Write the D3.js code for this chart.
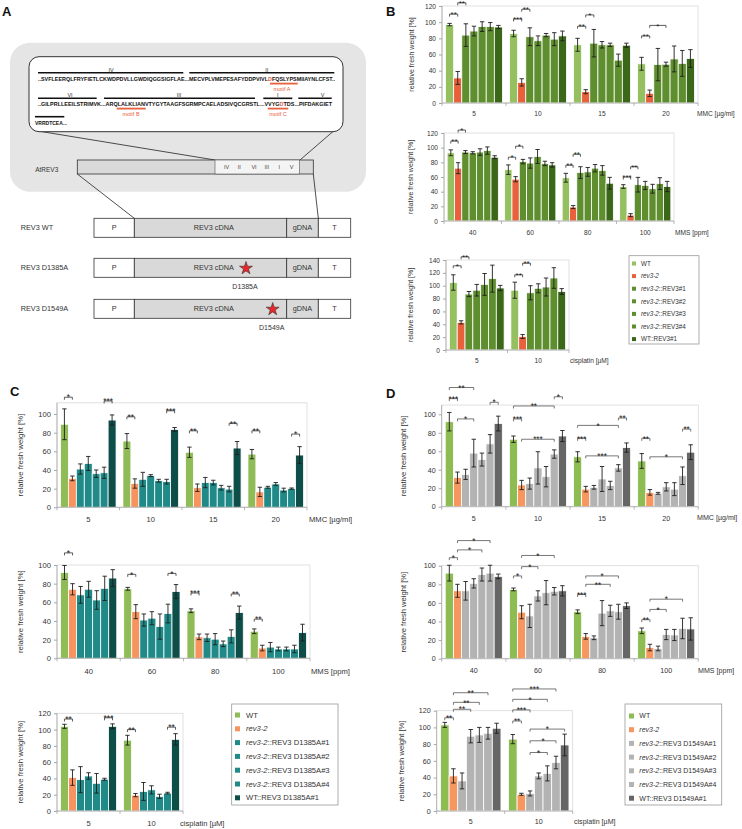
<!DOCTYPE html>
<html><head><meta charset="utf-8">
<script src="https://cdn.jsdelivr.net/npm/d3@7"></script>
<style>body{margin:0;background:#fff} svg{display:block;font-family:"Liberation Sans",Arial,sans-serif}</style>
</head><body><svg id="fig" width="742" height="829"></svg>
<script>
// ---------------- DATA ----------------
const seriesB = ["WT","rev3-2","rev3-2::REV3#1","rev3-2::REV3#2","rev3-2::REV3#3","rev3-2::REV3#4","WT::REV3#1"];
const seriesC = ["WT","rev3-2","rev3-2::REV3 D1385A#1","rev3-2::REV3 D1385A#2","rev3-2::REV3 D1385A#3","rev3-2::REV3 D1385A#4","WT::REV3 D1385A#1"];
const seriesD = ["WT","rev3-2","rev3-2::REV3 D1549A#1","rev3-2::REV3 D1549A#2","rev3-2::REV3 D1549A#3","rev3-2::REV3 D1549A#4","WT::REV3 D1549A#1"];
const mmcDoses = ["5","10","15","20"];
const mmsDoses = ["40","60","80","100"];
const cisDoses = ["5","10"];
const ticks100 = [0,20,40,60,80,100];
const ticks120 = [0,20,40,60,80,100,120];
const ticks140 = [0,20,40,60,80,100,120,140];

// panel B
const bMMC = [[97,31,84,89,94.5,94.5,94],[86,25.5,82,77,84,79,83],[72,14,74,72,72,53,71.5],[48.5,12,47.5,48,54.5,49,55]];
const bMMCErr = [[1.5,8,14,6,6,5,2],[4,4.5,11,6,2,8,6],[8,2.5,17,4,2,7.5,2.5],[8,4,20,2.5,16,16,11]];
const bMMCSig = [[0,0,1,110,"**"],[0,1,2,124,"**"],[1,0,1,104,"***"],[1,1,2,116,"**"],[2,0,1,95,"**"],[2,1,2,109,"*"],[3,0,1,83,"**"],[3,1,3,96,"*"]];
const bMMS = [[93,72,94,93,94,96,87],[70,57,81,79,88,78.5,76.5],[59,19,66,67,72,69,51.5],[47,8,49.5,48.5,44,51,47]];
const bMMSErr = [[4,7.5,2,1.5,4.5,5,2],[6.5,3.5,3,7,9.5,3,3],[6,2,8,6,5,6.5,8],[2.5,2,10,5.5,6,8,7]];
const bMMSSig = [[0,0,1,109,"**"],[0,1,2,124,"*"],[1,0,1,87,"*"],[1,1,2,102,"*"],[2,0,1,76,"**"],[2,1,2,91,"**"],[3,0,1,60,"***"],[3,1,2,74,"**"]];
const bCis = [[105,43,87,93,102,111,96.5],[93,21,89,96,98,112,91]];
const bCisErr = [[12,2.5,4,9,17,21,4],[12.5,3,11,7,14,16,4.5]];
const bCisSig = [[0,0,1,131,"*"],[0,1,2,145,"**"],[1,0,1,117,"**"],[1,1,2,135,"**"]];

// panel C
const cMMC = [[89,31,41,47,36,37,93.5],[71,25.5,30,34,28.5,27.5,83.5],[59,21,26.5,26.5,21,19.5,63.5],[57,16.5,21.5,25,18.5,20,56]];
const cMMCErr = [[16.5,2.5,5.5,7.5,4,6,5.5],[8,5,7.5,1,1.5,2.5,2],[5.5,4,5.5,2.5,2.5,3,7],[5,5,1,1.5,2,0.7,9]];
const cMMCSig = [[0,0,1,118,"*"],[0,5,6,114,"***"],[1,0,1,97,"**"],[1,5,6,103.5,"***"],[2,0,1,82,"**"],[2,5,6,90,"**"],[3,0,1,82,"**"],[3,5,6,78.5,"*"]];
const cMMS = [[92,74,68,74,62.5,75,86],[74.5,50,41,43,34,48,71.5],[51,23,22,20.5,15.5,23.5,49],[29,11,12,10,10,10,27.5]];
const cMMSErr = [[7.5,6,9,8.5,10,13,9],[1.5,7.5,6.5,7,13.5,10,7.5],[2,3,4,6,3,7,7],[2.5,3,5,2,2,4,9]];
const cMMSSig = [[0,0,1,113,"*"],[1,0,1,90,"*"],[1,5,6,91,"*"],[2,0,1,70,"***"],[2,5,6,69,"**"],[3,0,1,42,"**"]];
const cCis = [[104,41,38.5,43,34,39,104],[87,19.5,24,26,18,22,88]];
const cCisErr = [[2.5,9.5,16,4,12,1.2,3],[6,2,11,5,2.6,1,7]];
const cCisSig = [[0,0,1,113,"**"],[0,5,6,114.5,"***"],[1,0,1,100,"**"],[1,5,6,103,"**"]];

// panel D
const dMMC = [[92,31.5,35,58,51,68,90],[73,23.5,25,42,32.5,57,76.5],[54,19,21,30,23,42,64],[49.5,15.5,14.5,21.5,19,33.5,59]];
const dMMCErr = [[10,6,5.5,15,7,10,8],[3.5,5,6,17.5,11,4.5,6],[5.5,3,2,13.5,4.5,3.5,5],[8,3,1,4.5,7,9.5,8]];
const dMMCSig = [[0,0,3,129,"**"],[0,0,1,117,"***"],[0,5,6,113,"*"],[0,1,3,95,"*"],[1,0,5,109,"**"],[1,5,6,119,"*"],[1,0,1,95,"***"],[1,1,5,73,"***"],[2,0,5,88,"*"],[2,5,6,96,"**"],[2,0,1,74,"***"],[2,1,5,55,"***"],[3,0,1,74,"**"],[3,1,5,54,"*"],[3,5,6,84,"**"]];
const dMMS = [[92,73,73,81,90.5,92,88.5],[74.5,50,46,67.5,71,72.5,73],[50.5,24,22.5,49,51.5,50.5,57],[30,12,11,26,25.5,32.5,32]];
const dMMSErr = [[8.5,7,10,5,7,8.5,2.5],[1.5,7,12.5,5.5,13,4,5.5],[2,3,2,13.5,6,8,3],[3,3.5,2.5,5.5,6,11,12]];
const dMMSSig = [[0,0,1,108.6,"*"],[0,1,4,117,"*"],[0,1,5,127,"*"],[1,0,1,89,"*"],[1,1,3,99,"*"],[1,1,5,111,"*"],[2,0,1,69,"***"],[2,1,4,80,"**"],[2,1,5,89,"*"],[3,0,1,42,"**"],[3,1,3,53,"*"],[3,1,5,64,"*"]];
const dCis = [[103,42,36,89.5,91,93,99],[86,20,21,42,45,58,79]];
const dCisErr = [[3,8.5,9.5,8,9,7,6],[5.5,1.2,3,3.5,9,7.5,13]];
const dCisSig = [[0,0,1,111.6,"**"],[0,1,3,121.7,"**"],[0,1,4,130,"**"],[0,1,5,141.5,"**"],[1,0,1,107.7,"**"],[1,0,2,121,"***"],[1,0,4,133.6,"*"],[1,0,5,146,"***"],[1,2,4,70,"*"],[1,2,5,84,"*"],[1,2,6,98,"*"]];

// ---------------- STYLE ----------------
const colB = ["#94C05F","#E8603C","#5F8E2F","#5F8E2F","#5F8E2F","#5F8E2F","#3B6718"];
const colC = ["#8FBC57","#F7935F","#1F8A87","#1F8A87","#1F8A87","#1F8A87","#0D4E49"];
const colD = ["#8DBC52","#F7965F","#B3B3B3","#B3B3B3","#B3B3B3","#B3B3B3","#666666"];

const svg = d3.select("#fig");

function drawChart(c) {
  const g = svg.append("g");
  const y = d3.scaleLinear().domain([0, c.tickMax]).range([c.y0, c.yTickMaxPx]);
  const x0 = d3.scaleBand().domain(c.groups).range([c.left, c.right]);
  const bw = x0.bandwidth();
  const x1 = d3.scaleBand().domain(d3.range(c.colors.length)).range([bw*0.055, bw*0.945]);
  const b1 = x1.bandwidth();
  // frame
  g.append("rect").attr("x", c.left).attr("y", y(c.frameTop))
    .attr("width", c.right - c.left).attr("height", y(0) - y(c.frameTop))
    .attr("fill", "none").attr("stroke", "#D9D9D9").attr("stroke-width", 0.8);
  const flat = [];
  c.means.forEach((row, gi) => row.forEach((v, si) => flat.push({g: c.groups[gi], s: si, v, e: c.errs[gi][si]})));
  g.selectAll("rect.bar").data(flat).join("rect").attr("class","bar")
    .attr("x", d => x0(d.g) + x1(d.s)).attr("width", b1)
    .attr("y", d => y(d.v)).attr("height", d => y(0) - y(d.v))
    .attr("fill", d => c.colors[d.s]).attr("stroke", "#fff").attr("stroke-width", 0.8);
  // error bars
  const eg = g.append("g").attr("stroke", "#1e1e1e").attr("stroke-width", 0.9).attr("fill","none");
  const cap = Math.min(2.2, b1*0.3);
  eg.selectAll("path").data(flat).join("path").attr("d", d => {
    const cx = x0(d.g) + x1(d.s) + b1/2, yt = y(d.v + d.e), yb = y(Math.max(0, d.v - d.e));
    return `M${cx-cap},${yt}H${cx+cap}M${cx},${yt}V${yb}M${cx-cap},${yb}H${cx+cap}`;
  });
  // y axis
  const ya = g.append("g").attr("transform", `translate(${c.left},0)`)
    .call(d3.axisLeft(y).tickValues(c.ticks).tickSize(3).tickPadding(3));
  ya.select(".domain").remove();
  ya.selectAll("line").attr("stroke", "#A6A6A6");
  ya.selectAll("text").attr("font-size", c.fs).attr("fill", "#333").attr("font-family", null);
  g.append("line").attr("x1", c.left).attr("x2", c.left).attr("y1", y(c.frameTop)).attr("y2", y(0)).attr("stroke", "#A6A6A6").attr("stroke-width", 0.8);
  // x axis
  g.append("line").attr("x1", c.left).attr("x2", c.right).attr("y1", y(0)).attr("y2", y(0)).attr("stroke", "#A6A6A6").attr("stroke-width", 0.8);
  const bounds = c.groups.map(k => x0(k)).concat([c.right]);
  g.selectAll("line.bt").data(bounds).join("line").attr("class","bt")
    .attr("x1", d => d).attr("x2", d => d).attr("y1", y(0)).attr("y2", y(0) + 3)
    .attr("stroke", "#A6A6A6").attr("stroke-width", 0.8);
  const xa = g.append("g").attr("transform", `translate(0,${c.xlabY})`)
    .call(d3.axisBottom(x0).tickSize(0).tickPadding(0));
  xa.select(".domain").remove();
  xa.selectAll("text").attr("y", 0).attr("dy", "0.35em").attr("font-size", c.fs).attr("fill", "#333").attr("font-family", null);
  g.append("text").attr("x", c.xTitleX).attr("y", c.xlabY).attr("dy", "0.35em")
    .attr("font-size", c.fs).attr("fill", "#333").text(c.xTitle);
  // y label
  g.append("text").attr("transform", `translate(${c.ylabX},${(y(c.frameTop) + y(0))/2}) rotate(-90)`)
    .attr("text-anchor", "middle").attr("dy", "0.35em").attr("font-size", c.yfs).attr("fill", "#333")
    .text("relative fresh weight [%]");
  // significance brackets
  const sg = g.append("g");
  c.sigs.forEach(([gi, a, b, v, lab]) => {
    const xa_ = x0(c.groups[gi]) + x1(a) + b1/2, xb_ = x0(c.groups[gi]) + x1(b) + b1/2, yy = y(v);
    sg.append("path").attr("d", `M${xa_},${yy+2.5}V${yy}H${xb_}V${yy+2.5}`)
      .attr("fill", "none").attr("stroke", c.sigStroke).attr("stroke-width", 0.8);
    sg.append("text").attr("x", (xa_ + xb_)/2).attr("y", yy + 3.2).attr("text-anchor", "middle")
      .attr("font-size", c.sfs).attr("fill", "#222").text(lab);
  });
}

function drawLegend(L) {
  const g = svg.append("g");
  g.append("rect").attr("x", L.x).attr("y", L.y).attr("width", L.w).attr("height", L.h)
    .attr("fill", "#fff").attr("stroke", "#999").attr("stroke-width", 0.8);
  L.items.forEach((name, i) => {
    const cy = L.y0 + i * L.step;
    g.append("rect").attr("x", L.mx).attr("y", cy - L.ms/2).attr("width", L.ms).attr("height", L.ms).attr("fill", L.colors[i]);
    const t = g.append("text").attr("x", L.tx).attr("y", cy).attr("dy", "0.35em").attr("font-size", L.fs).attr("fill", "#333");
    if (name.startsWith("rev3-2")) {
      t.append("tspan").attr("font-style", "italic").text("rev3-2");
      if (name.length > 6) t.append("tspan").text(name.slice(6));
    } else t.text(name);
  });
}

// ---------------- PANEL B ----------------
drawChart({groups: mmcDoses, means: bMMC, errs: bMMCErr, sigs: bMMCSig, colors: colB, left: 442, right: 698,
  y0: 103, tickMax: 120, yTickMaxPx: 6, frameTop: 120, ticks: ticks120, xlabY: 114, xTitle: "MMC [µg/ml]", xTitleX: 697,
  ylabX: 412, fs: 6.6, yfs: 7, sfs: 8, sigStroke: "#333"});
drawChart({groups: mmsDoses, means: bMMS, errs: bMMSErr, sigs: bMMSSig, colors: colB, left: 444, right: 674,
  y0: 221, tickMax: 120, yTickMaxPx: 133, frameTop: 120, ticks: ticks120, xlabY: 233, xTitle: "MMS [ppm]", xTitleX: 675,
  ylabX: 411, fs: 6.6, yfs: 7, sfs: 8, sigStroke: "#333"});
drawChart({groups: cisDoses, means: bCis, errs: bCisErr, sigs: bCisSig, colors: colB, left: 446, right: 569,
  y0: 350, tickMax: 140, yTickMaxPx: 260, frameTop: 140, ticks: ticks140, xlabY: 361, xTitle: "cisplatin [µM]", xTitleX: 570,
  ylabX: 411, fs: 6.6, yfs: 7, sfs: 8, sigStroke: "#333"});
drawLegend({x: 629, y: 255.7, w: 70, h: 88.3, y0: 263.5, step: 12.6, mx: 632, ms: 4, tx: 641, fs: 6.3, items: seriesB, colors: colB});

// ---------------- PANEL C ----------------
drawChart({groups: mmcDoses, means: cMMC, errs: cMMCErr, sigs: cMMCSig, colors: colC, left: 57, right: 307,
  y0: 507.3, tickMax: 100, yTickMaxPx: 414, frameTop: 112, ticks: ticks100, xlabY: 519, xTitle: "MMC [µg/ml]", xTitleX: 309,
  ylabX: 20, fs: 7.6, yfs: 7.8, sfs: 8.5, sigStroke: "#333"});
drawChart({groups: mmsDoses, means: cMMS, errs: cMMSErr, sigs: cMMSSig, colors: colC, left: 57, right: 310,
  y0: 658.3, tickMax: 100, yTickMaxPx: 565, frameTop: 100, ticks: ticks100, xlabY: 671, xTitle: "MMS [ppm]", xTitleX: 311,
  ylabX: 20, fs: 7.6, yfs: 7.8, sfs: 8.5, sigStroke: "#333"});
drawChart({groups: cisDoses, means: cCis, errs: cCisErr, sigs: cCisSig, colors: colC, left: 57, right: 183,
  y0: 811, tickMax: 120, yTickMaxPx: 713.3, frameTop: 120, ticks: ticks120, xlabY: 823, xTitle: "cisplatin [µM]", xTitleX: 180,
  ylabX: 20, fs: 7.6, yfs: 7.8, sfs: 8.5, sigStroke: "#333"});
drawLegend({x: 231.7, y: 704, w: 106.3, h: 101, y0: 715, step: 13.8, mx: 235, ms: 5, tx: 246, fs: 7.6, items: seriesC, colors: colC});

// ---------------- PANEL D ----------------
drawChart({groups: mmcDoses, means: dMMC, errs: dMMCErr, sigs: dMMCSig, colors: colD, left: 441.7, right: 698.3,
  y0: 506.7, tickMax: 100, yTickMaxPx: 414.3, frameTop: 110, ticks: ticks100, xlabY: 518, xTitle: "MMC [µg/ml]", xTitleX: 697,
  ylabX: 403, fs: 7.1, yfs: 7.6, sfs: 8.2, sigStroke: "#555"});
drawChart({groups: mmsDoses, means: dMMS, errs: dMMSErr, sigs: dMMSSig, colors: colD, left: 441.7, right: 698.3,
  y0: 658.7, tickMax: 100, yTickMaxPx: 565.7, frameTop: 100, ticks: ticks100, xlabY: 670.7, xTitle: "MMS [ppm]", xTitleX: 698,
  ylabX: 403, fs: 7.1, yfs: 7.6, sfs: 8.2, sigStroke: "#555"});
drawChart({groups: cisDoses, means: dCis, errs: dCisErr, sigs: dCisSig, colors: colD, left: 436.7, right: 572.7,
  y0: 811, tickMax: 120, yTickMaxPx: 710.7, frameTop: 120, ticks: ticks120, xlabY: 821.7, xTitle: "cisplatin [µM]", xTitleX: 574,
  ylabX: 401.7, fs: 7.1, yfs: 7.6, sfs: 8.2, sigStroke: "#555"});
drawLegend({x: 625, y: 704, w: 96.7, h: 101, y0: 716, step: 13.7, mx: 629, ms: 5, tx: 639.3, fs: 7, items: seriesD, colors: colD});

// ---------------- PANEL LABELS ----------------
[["A",2,16],["B",386,16],["C",10,396],["D",386,398]].forEach(([t,x,yy]) =>
  svg.append("text").attr("x",x).attr("y",yy).attr("font-size",13).attr("font-weight","bold").attr("fill","#111").text(t));

// ---------------- PANEL A (schematic) ----------------
const A = svg.append("g");
A.append("rect").attr("x",10).attr("y",42.7).attr("width",356).attr("height",149).attr("rx",20).attr("fill","#E5E5E5");
A.append("line").attr("x1",38).attr("y1",131).attr("x2",215).attr("y2",160).attr("stroke","#222").attr("stroke-width",0.8);
A.append("line").attr("x1",333).attr("y1",131.5).attr("x2",300).attr("y2",160).attr("stroke","#222").attr("stroke-width",0.8);
A.append("rect").attr("x",29).attr("y",56.7).attr("width",314).attr("height",75).attr("rx",10).attr("fill","#fff").attr("stroke","#333").attr("stroke-width",1);
const seqBar = (x1,x2,yy) => A.append("line").attr("x1",x1).attr("x2",x2).attr("y1",yy).attr("y2",yy).attr("stroke","#111").attr("stroke-width",1.6);
const smallTxt = (t,x,yy,fs,col,anchor) => A.append("text").attr("x",x).attr("y",yy).attr("font-size",fs).attr("fill",col||"#333").attr("text-anchor",anchor||"middle").text(t);
seqBar(38,183.3,72.7); seqBar(189.3,334.3,72.7);
smallTxt("IV",111,71.5,5.5); smallTxt("II",266.7,71.5,5.5);
const seq = (parts, x, yy, len) => {
  const t = A.append("text").attr("x",x).attr("y",yy).attr("font-size",5).attr("font-weight","bold").attr("fill","#111")
    .attr("textLength",len).attr("lengthAdjust","spacingAndGlyphs");
  parts.forEach(([s,red]) => t.append("tspan").attr("fill", red ? "#E8603C" : "#111").text(s));
};
seq([["..SVFLEERQLFRYFIETLCKWDPDVLLGWDIQGGSIGFLAE...MECVPLVMEPESAFYDDPVIVL",0],["D",1],["FQSLYPSMIIAYNLCFST..",0]],38,81,297);
A.append("line").attr("x1",270).attr("x2",297.7).attr("y1",83.6).attr("y2",83.6).attr("stroke","#E8603C").attr("stroke-width",1.8);
smallTxt("motif A",282,91,5.5,"#E8603C");
seqBar(38,96.7,98.3); seqBar(104,255,98.3); seqBar(263.3,292.3,98.3); seqBar(298.3,331.7,98.3);
smallTxt("VI",70,97,5.5); smallTxt("III",179,97,5.5); smallTxt("I",277.7,97,5.5); smallTxt("V",322.7,97,5.5);
seq([["..GILPRLLEEILSTRIMVK...ARQLALKLIANVTYGYTAAGFSGRMPCAELADSIVQCGRSTL...VVYG",0],["D",1],["TDS...PIFDAKGIET",0]],38,106,294);
A.append("line").attr("x1",116.7).attr("x2",145.7).attr("y1",108.6).attr("y2",108.6).attr("stroke","#E8603C").attr("stroke-width",1.8);
A.append("line").attr("x1",267.7).attr("x2",288.3).attr("y1",108.6).attr("y2",108.6).attr("stroke","#E8603C").attr("stroke-width",1.8);
smallTxt("motif B",131,115.5,5.5,"#E8603C"); smallTxt("motif C",278,115.5,5.5,"#E8603C");
seqBar(35,64.3,116.7);
seq([["VRRDTCEA...",0]],35,124.5,32);
// AtREV3 bar
A.append("rect").attr("x",77.3).attr("y",160).attr("width",236).attr("height",14).attr("fill","#D9D9D9").attr("stroke","#333").attr("stroke-width",0.8);
A.append("rect").attr("x",215).attr("y",160).attr("width",84.3).attr("height",14).attr("fill","#F4F4F4").attr("stroke","#555").attr("stroke-width",0.6);
[["IV",226.7],["II",239.3],["VI",254],["III",266.7],["I",279.3],["V",291.7]].forEach(([t,x]) => smallTxt(t,x,169.3,5.5,"#444"));
smallTxt("AtREV3",46.7,172.3,6.5,"#333");
A.append("line").attr("x1",77.3).attr("y1",174).attr("x2",134.3).attr("y2",218.3).attr("stroke","#222").attr("stroke-width",0.8);
A.append("line").attr("x1",313.3).attr("y1",174).attr("x2",318.3).attr("y2",218.3).attr("stroke","#222").attr("stroke-width",0.8);
// constructs
const rows = [["REV3 WT",218.3,null,null],["REV3 D1385A",258.3,246,"D1385A"],["REV3 D1549A",299.3,272.7,"D1549A"]];
rows.forEach(([lab, yy, sx, mut]) => {
  const h = 19;
  const segs = [[94,134.3,"#fff","P"],[134.3,286.7,"#D9D9D9","REV3 cDNA"],[286.7,318.3,"#D9D9D9","gDNA"],[318.3,350.7,"#fff","T"]];
  segs.forEach(([x1,x2,f,t]) => {
    A.append("rect").attr("x",x1).attr("y",yy).attr("width",x2-x1).attr("height",h).attr("fill",f).attr("stroke","#333").attr("stroke-width",0.8);
    A.append("text").attr("x",t==="REV3 cDNA" ? 213.8 : (x1+x2)/2).attr("y",yy+h/2).attr("dy","0.35em").attr("text-anchor","middle")
      .attr("font-size",7.3).attr("fill","#333").text(t);
  });
  A.append("text").attr("x",20.7).attr("y",yy+h/2).attr("dy","0.35em").attr("font-size",7.3).attr("fill","#333").text(lab);
  if (sx) {
    A.append("path").attr("d", d3.symbol(d3.symbolStar, 52)()).attr("transform",`translate(${sx},${yy+h/2+0.5})`)
      .attr("fill","#E8262B").attr("stroke","#333").attr("stroke-width",0.6);
    A.append("text").attr("x",sx-1).attr("y",yy+h+9.5).attr("dy","0.35em").attr("text-anchor","middle").attr("font-size",7).attr("fill","#333").text(mut);
  }
});
</script></body></html>
